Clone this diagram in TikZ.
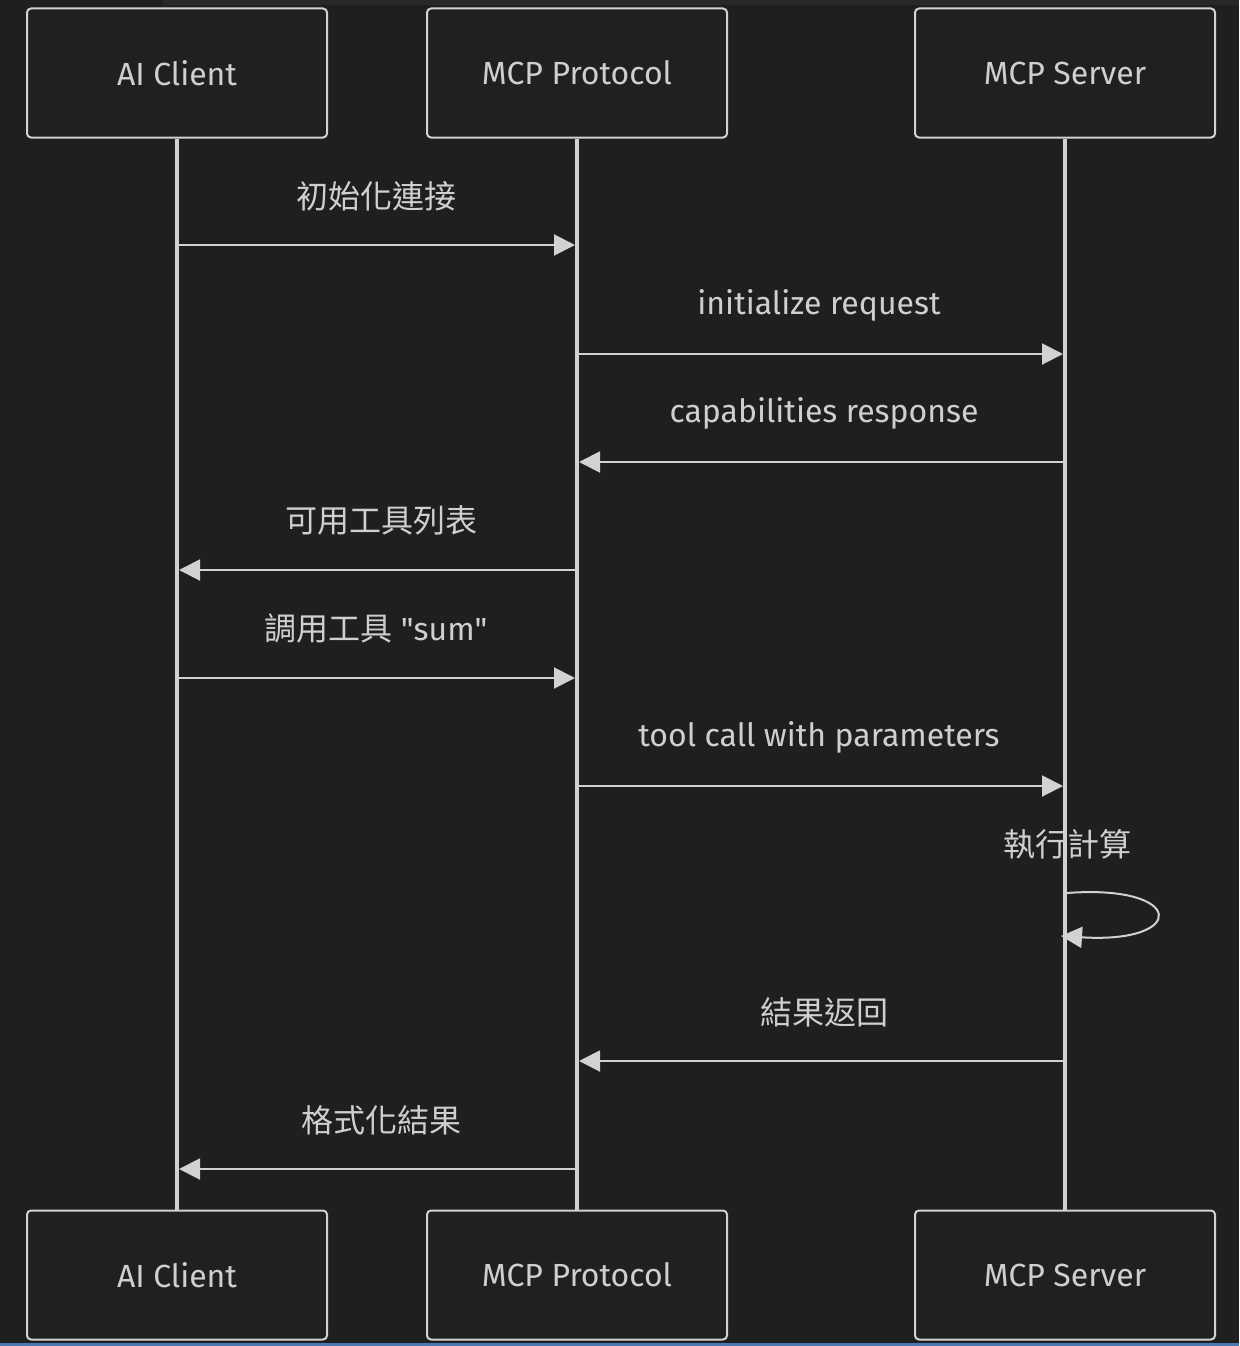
\documentclass[tikz,border=0pt]{standalone}
\usepackage{fontspec}
\setmainfont{Fira Sans}
\newfontfamily\cjk{Noto Sans CJK TC}
\usepackage{tikz}
\usetikzlibrary{arrows.meta,
  positioning,
  calc}
\usepackage{xcolor}

\definecolor{bgdark}{HTML}{1F1F1F}
\definecolor{boxfill}{HTML}{1F2020}
\definecolor{linegray}{HTML}{D2D2D2}
\definecolor{textgray}{HTML}{CFCFCF}
\definecolor{topstrip}{HTML}{282828}
\definecolor{edgeblue}{HTML}{4A78B2}

\tikzset{
  actor/.style={draw=linegray, line width=2pt, fill=boxfill, rounded corners=4pt,
    minimum width=300pt, minimum height=129pt, text=textgray,
    font=\fontsize{32}{38}\selectfont},
  lifeline/.style={draw=linegray, line width=3.5pt},
  msg/.style={draw=linegray, line width=2pt,
    -{Triangle[length=21pt,width=21pt]}},
  msglabel/.style={text=textgray, font=\fontsize{32}{38}\selectfont}
}

\begin{document}
\begin{tikzpicture}[x=1pt,y=-1pt]

      % Background
      \fill[bgdark] (0,0) rectangle (1239,1346);
      \fill[topstrip] (163,0) rectangle (1239,5);
      \fill[edgeblue] (0,1343) rectangle (1239,1346);
      \useasboundingbox (0,0) rectangle (1239,1346);

      % Participants (top)
      \node [actor] (clientTop)   at (177,73)  {AI Client};
      \node [actor] (protocolTop) at (577,73)  {MCP Protocol};
      \node [actor] (serverTop)   at (1065,73) {MCP Server};

      % Participants (bottom)
      \node [actor] (clientBot)   at (177,1275)  {AI Client};
      \node [actor] (protocolBot) at (577,1275)  {MCP Protocol};
      \node [actor] (serverBot)   at (1065,1275) {MCP Server};

      % Lifelines:
      \draw [lifeline] (clientTop.south)   -- (clientBot.north);
      \draw [lifeline] (protocolTop.south) -- (protocolBot.north);
      \draw [lifeline] (serverTop.south)   -- (serverBot.north);

      % Points on the lifelines for each message
      \coordinate (c1) at (179,245);  \coordinate (p1) at (575,245);
      \coordinate (p2) at (579,354);  \coordinate (s2) at (1063,354);
      \coordinate (s3) at (1063,462); \coordinate (p3) at (579,462);
      \coordinate (p4) at (575,570);  \coordinate (c4) at (179,570);
      \coordinate (c5) at (179,678);  \coordinate (p5) at (575,678);
      \coordinate (p6) at (579,786);  \coordinate (s6) at (1063,786);
      \coordinate (s7) at (1067,893); \coordinate (t7) at (1061,936);
      \coordinate (s8) at (1063,1061); \coordinate (p8) at (579,1061);
      \coordinate (p9) at (575,1169); \coordinate (c9) at (179,1169);

      % Messages
      \draw [msg] (c1) -- (p1);
      \node [msglabel] (m1) at (376,196) {\cjk 初始化連接};

      \draw [msg] (p2) -- (s2);
      \node [msglabel] (m2) at (819,305) {initialize request};

      \draw [msg] (s3) -- (p3);
      \node [msglabel] (m3) at (824,413) {capabilities response};

      \draw [msg] (p4) -- (c4);
      \node [msglabel] (m4) at (381,520) {\cjk 可用工具列表};

      \draw [msg] (c5) -- (p5);
      \node [msglabel] (m5) at (376,628) {{\cjk 調用工具} \textquotedbl sum\textquotedbl};

      \draw [msg] (p6) -- (s6);
      \node [msglabel] (m6) at (819,737) {tool call with parameters};

      % Self call on the server
      \node [msglabel] (m7) at (1067,844) {\cjk 執行計算};
      \draw [msg] (s7) .. controls (1186,884) and (1188,944) .. (t7);

      \draw [msg] (s8) -- (p8);
      \node [msglabel] (m8) at (824,1012) {\cjk 結果返回};

      \draw [msg] (p9) -- (c9);
      \node [msglabel] (m9) at (381,1120) {\cjk 格式化結果};

\end{tikzpicture}
\end{document}
